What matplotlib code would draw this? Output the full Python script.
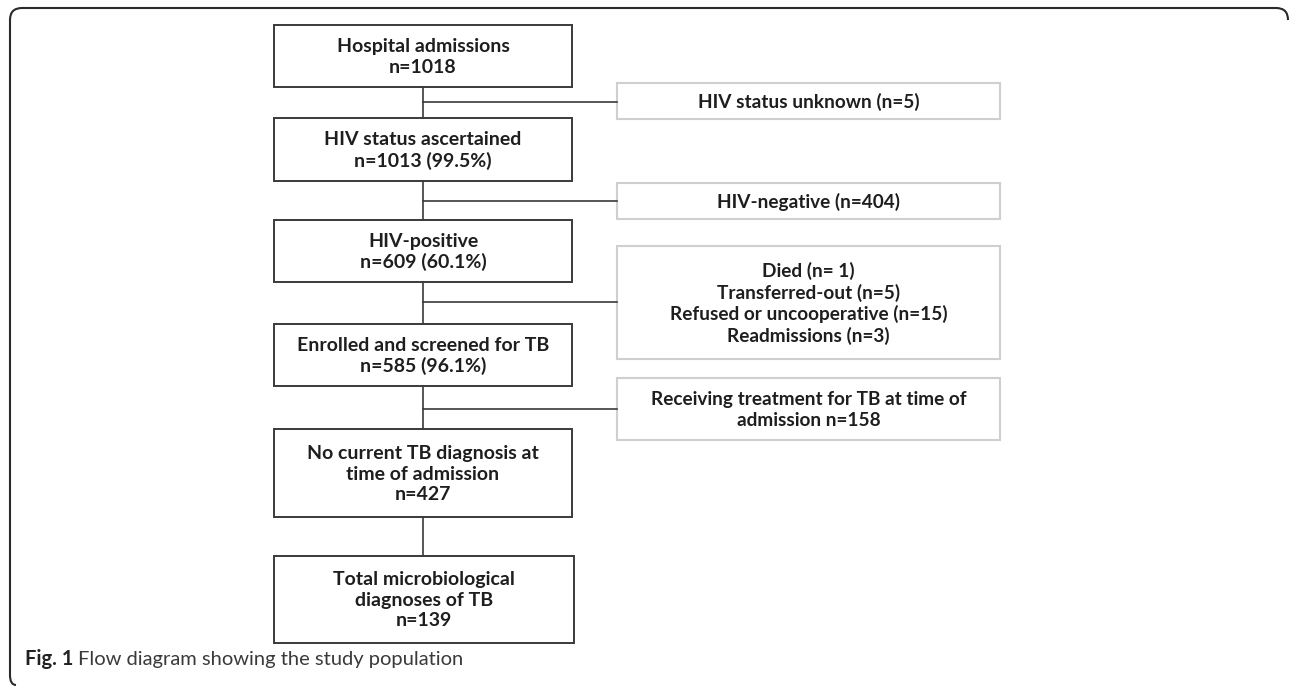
import matplotlib.pyplot as plt
from matplotlib.patches import Rectangle, PathPatch
from matplotlib.path import Path

# Flow diagram content
main_labels = [
    "Hospital admissions\nn=1018",
    "HIV status ascertained\nn=1013 (99.5%)",
    "HIV-positive\nn=609 (60.1%)",
    "Enrolled and screened for TB\nn=585 (96.1%)",
    "No current TB diagnosis at\ntime of admission\nn=427",
    "Total microbiological\ndiagnoses of TB\nn=139",
]
side_labels = [
    "HIV status unknown (n=5)",
    "HIV-negative (n=404)",
    "Died (n= 1)\nTransferred-out (n=5)\nRefused or uncooperative (n=15)\nReadmissions (n=3)",
    "Receiving treatment for TB at time of\nadmission n=158",
]
caption_bold = "Fig. 1"
caption_text = "Flow diagram showing the study population"

# layout in pixels (top, bottom)
main_y = [(25, 87), (118, 181), (220, 282), (324, 386), (429, 517), (556, 643)]
main_x = [(274, 572)] * 5 + [(274, 574)]
side_y = [(83, 119), (183, 219), (246, 359), (378, 440)]
side_x = (617, 1000)
branch_y = [102, 201, 302, 409]
trunk_x = 423

W, H = 1290, 687
plt.rcParams['font.family'] = ['Lato', 'DejaVu Sans']
fig = plt.figure(figsize=(W / 100, H / 100), dpi=100)
ax = fig.add_axes([0, 0, 1, 1])
ax.set_xlim(0, W)
ax.set_ylim(H, 0)
ax.axis('off')

dark = '#3a3a3a'
light = '#cfcfcf'
txt = '#1e1e1e'

# outer frame with rounded corners
verts = [(1288, 20), (1288, 8), (1276, 8), (22, 8), (10, 8), (10, 20),
         (10, 675), (10, 685), (16, 685)]
codes = [Path.MOVETO, Path.CURVE3, Path.CURVE3, Path.LINETO, Path.CURVE3, Path.CURVE3,
         Path.LINETO, Path.CURVE3, Path.CURVE3]
ax.add_patch(PathPatch(Path(verts, codes), fill=False, lw=1.5, ec='#2a2a2a'))

# trunk between main boxes
for i in range(len(main_y) - 1):
    ax.plot([trunk_x, trunk_x], [main_y[i][1], main_y[i + 1][0]], color=dark, lw=1.2)

# main boxes
for (x0, x1), (y0, y1), lab in zip(main_x, main_y, main_labels):
    ax.add_patch(Rectangle((x0, y0), x1 - x0, y1 - y0, fill=False, ec=dark, lw=1.4))
    ax.text((x0 + x1) / 2, (y0 + y1) / 2 + 1, lab, ha='center', va='center',
            fontsize=14, fontweight='bold', color=txt, linespacing=1.25)

# side boxes with branches
for (y0, y1), by, lab in zip(side_y, branch_y, side_labels):
    ax.plot([trunk_x, side_x[0]], [by, by], color=dark, lw=1.2)
    ax.add_patch(Rectangle((side_x[0], y0), side_x[1] - side_x[0], y1 - y0,
                           fill=False, ec=light, lw=1.5))
    ax.text(sum(side_x) / 2, (y0 + y1) / 2 + 1, lab, ha='center', va='center',
            fontsize=13.7, fontweight='bold', color=txt, linespacing=1.25)

# caption
t = ax.text(25, 659, caption_bold, ha='left', va='center', fontsize=14.5,
            fontweight='bold', color='#222222')
fig.canvas.draw()
bb = t.get_window_extent().transformed(ax.transData.inverted())
ax.text(bb.x1 + 5, 659, caption_text, ha='left', va='center', fontsize=14.5,
        fontweight='normal', color='#3a3a3a')

fig.savefig('out.png', dpi=100)
